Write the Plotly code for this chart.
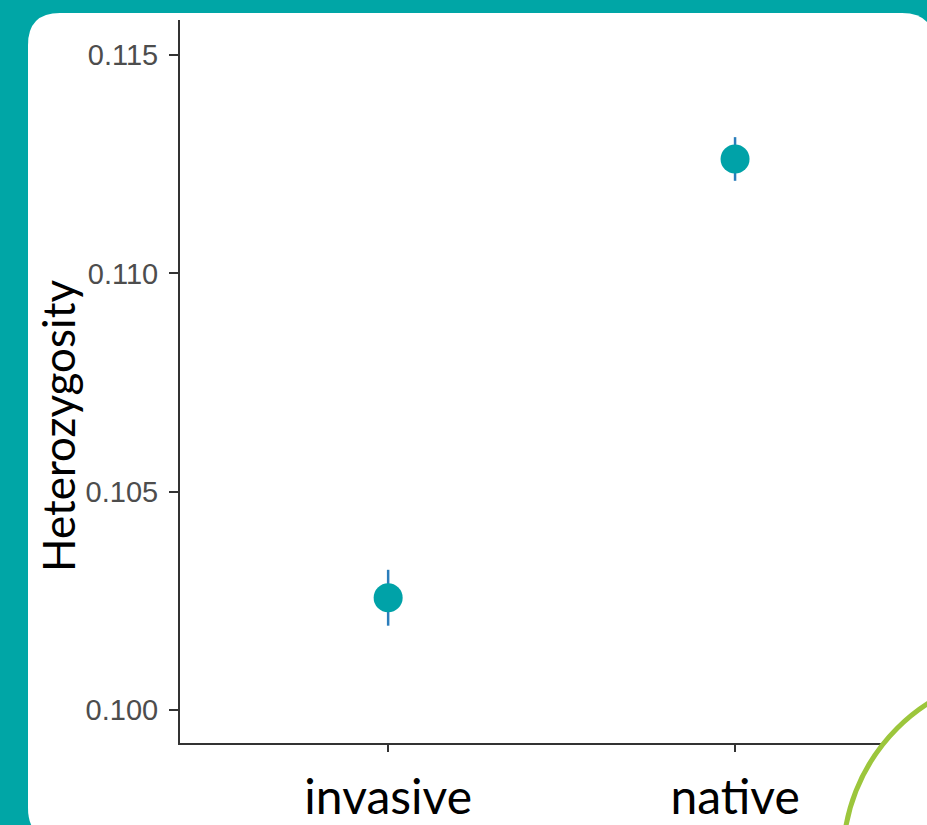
import plotly.graph_objects as go

# ---- data ----
categories = ["invasive", "native"]
heterozygosity = [0.10257, 0.11262]
std_error = [0.00064, 0.00050]
y_ticks = [0.100, 0.105, 0.110, 0.115]
y_tick_labels = ["0.100", "0.105", "0.110", "0.115"]

W, H = 927, 825
ML, MR, MT, MB = 180, 0, 20, 82
PW, PH = W - ML - MR, H - MT - MB


def px(x):
    return (x - ML) / PW


def py(y):
    return (H - MB - y) / PH


fig = go.Figure()
fig.add_trace(go.Scatter(
    x=categories, y=heterozygosity, mode="markers",
    marker=dict(size=29, color="#00A2A8"),
    error_y=dict(type="data", array=std_error, visible=True,
                 color="#2A7DBB", thickness=2.5, width=0),
    showlegend=False, hoverinfo="skip",
))

# rounded white panel
L, T, R, B, r = 28, 13, 934, 840, 32
path = (
    f"M {px(L + r)},{py(T)} L {px(R - r)},{py(T)} "
    f"Q {px(R)},{py(T)} {px(R)},{py(T + r)} "
    f"L {px(R)},{py(B - r)} Q {px(R)},{py(B)} {px(R - r)},{py(B)} "
    f"L {px(L + r)},{py(B)} Q {px(L)},{py(B)} {px(L)},{py(B - r)} "
    f"L {px(L)},{py(T + r)} Q {px(L)},{py(T)} {px(L + r)},{py(T)} Z"
)
shapes = [
    dict(type="path", xref="paper", yref="paper", path=path,
         fillcolor="white", line=dict(width=0), layer="below"),
    dict(type="circle", xref="paper", yref="paper",
         x0=px(1028 - 185), x1=px(1028 + 185),
         y0=py(859 + 185), y1=py(859 - 185),
         fillcolor="white", line=dict(color="#9CC63C", width=5), layer="above"),
]

fig.update_layout(
    width=W, height=H,
    margin=dict(l=ML, r=MR, t=MT, b=MB, pad=0),
    paper_bgcolor="#00A6A6",
    plot_bgcolor="rgba(0,0,0,0)",
    shapes=shapes,
    xaxis=dict(
        type="category", range=[-0.6, 1.5533],
        showline=True, linecolor="#333333", linewidth=2,
        ticks="outside", ticklen=7, tickwidth=2, tickcolor="#333333",
        showgrid=False, zeroline=False,
        tickfont=dict(family="Lato", size=48, color="black"),
        ticklabelstandoff=4,
    ),
    yaxis=dict(
        range=[0.099243, 0.115803],
        tickvals=y_ticks, ticktext=y_tick_labels,
        showline=True, linecolor="#333333", linewidth=2,
        ticks="outside", ticklen=9, tickwidth=2, tickcolor="#333333",
        showgrid=False, zeroline=False,
        tickfont=dict(family="Liberation Sans, Arial", size=29, color="#4D4D4D"),
        ticklabelstandoff=5,
    ),
    annotations=[dict(
        text="Heterozygosity", xref="paper", yref="paper",
        x=px(58), y=py(426), xanchor="center", yanchor="middle",
        textangle=-90, showarrow=False,
        font=dict(family="Lato", size=44, color="black"),
    )],
)

fig.write_html(
    "out.html",
    config={"displayModeBar": False},
    post_script="document.body.style.margin='0';document.body.style.overflow='hidden';",
)
